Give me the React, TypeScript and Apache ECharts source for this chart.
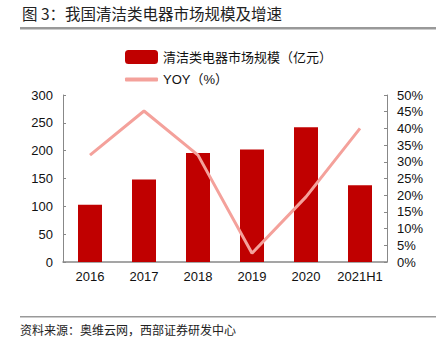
import React, { useEffect, useRef } from "react";
import * as echarts from "echarts";

const categories = ["2016", "2017", "2018", "2019", "2020", "2021H1"];
const marketSize = [103, 148, 196, 202, 242, 138];
const yoy = [32, 45.2, 32, 2.6, 19.5, 40];
const leftTicks = [0, 50, 100, 150, 200, 250, 300];

export default function App() {
  const ref = useRef<HTMLDivElement>(null);
  useEffect(() => {
    if (!ref.current) return;
    const chart = echarts.init(ref.current, undefined, { renderer: "svg" });
    const font = "'Liberation Sans', Arial, 'Noto Sans CJK SC', sans-serif";
    const legendText = { fontSize: 13, color: "#111", fontFamily: font };
    chart.setOption({
      animation: false,
      backgroundColor: "#fff",
      textStyle: { fontFamily: font },
      grid: { left: 63, right: 57, top: 95, bottom: 89 },
      legend: [
        {
          left: 120,
          top: 45,
          itemWidth: 33,
          itemHeight: 14,
          textStyle: legendText,
          data: [{ name: "清洁类电器市场规模（亿元）", icon: "roundRect" }],
        },
        {
          left: 120,
          top: 68,
          itemWidth: 33,
          itemHeight: 4,
          textStyle: legendText,
          data: [{ name: "YOY（%）", icon: "roundRect" }],
        },
      ],
      xAxis: {
        type: "category",
        data: categories,
        axisLine: { lineStyle: { color: "#888", width: 1.5 } },
        axisTick: { inside: true, length: 4, lineStyle: { color: "#888" } },
        axisLabel: { fontSize: 13, color: "#111", margin: 8, interval: 0 },
      },
      yAxis: [
        {
          type: "value",
          min: 0,
          max: leftTicks[leftTicks.length - 1],
          interval: 50,
          splitLine: { show: false },
          axisLine: { show: true, lineStyle: { color: "#888" } },
          axisTick: { show: true, inside: true, length: 3, lineStyle: { color: "#888" } },
          axisLabel: { fontSize: 13, color: "#111", margin: 10 },
        },
        {
          type: "value",
          min: 0,
          max: 50,
          interval: 5,
          splitLine: { show: false },
          axisLine: { show: true, lineStyle: { color: "#888" } },
          axisTick: { show: true, inside: true, length: 3, lineStyle: { color: "#888" } },
          axisLabel: { fontSize: 13, color: "#111", margin: 10, formatter: "{value}%" },
        },
      ],
      series: [
        {
          name: "清洁类电器市场规模（亿元）",
          type: "bar",
          data: marketSize,
          barWidth: 24,
          itemStyle: { color: "#C00000" },
        },
        {
          name: "YOY（%）",
          type: "line",
          yAxisIndex: 1,
          data: yoy,
          symbol: "none",
          lineStyle: { color: "#F4A19B", width: 3 },
          itemStyle: { color: "#F4A19B" },
        },
      ],
      graphic: [
        {
          type: "text",
          left: 22,
          top: 5,
          style: {
            text: "图 3：我国清洁类电器市场规模及增速",
            fontSize: 15.5,
            fill: "#222",
            fontFamily: "'Noto Sans CJK SC', sans-serif",
          },
        },
        {
          type: "rect",
          shape: { x: 20, y: 27, width: 416, height: 2.5 },
          style: { fill: "#999" },
        },
        {
          type: "rect",
          shape: { x: 20, y: 316, width: 416, height: 1.5 },
          style: { fill: "#999" },
        },
        {
          type: "text",
          left: 20,
          top: 323,
          style: {
            text: "资料来源：奥维云网，西部证券研发中心",
            fontSize: 12,
            fill: "#222",
            fontFamily: "'Noto Sans CJK SC', sans-serif",
          },
        },
      ],
    });
    return () => chart.dispose();
  }, []);
  return <div ref={ref} style={{ width: 444, height: 351, position: "absolute", left: 0, top: 0 }} />;
}
